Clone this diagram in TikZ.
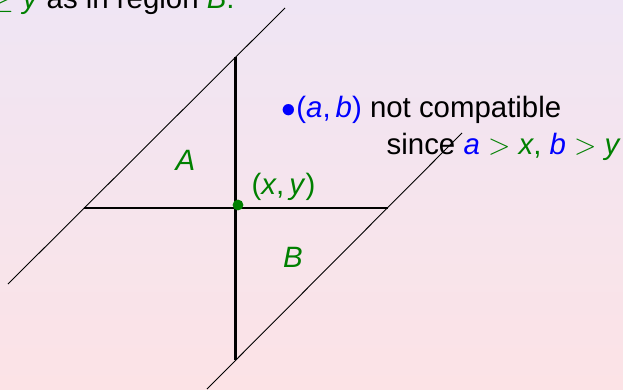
\RequirePackage{fix-cm}
\documentclass[tikz,border=0pt]{standalone}
\usepackage{fontspec}
\setmainfont{Liberation Sans}
\definecolor{mygreen}{RGB}{0,128,0}
\definecolor{myblue}{RGB}{0,0,255}
\definecolor{bgtop}{RGB}{239,229,244}
\definecolor{bgbot}{RGB}{252,227,230}
\newcommand\mvar[1]{\textit{#1}}
\tikzset{
  lbl/.style={inner sep=0pt, font=\fontsize{29.4}{35}\selectfont},
  axis/.style={line width=2.2pt, black},
  diag/.style={line width=0.9pt, black},
}
\begin{document}
\begin{tikzpicture}[x=1pt,y=1pt]
\clip (0,0) rectangle (623,389);
\shade[top color=bgtop, bottom color=bgbot] (0,0) rectangle (623,389);
% geometry
\coordinate (P) at (235.5,181);
\coordinate (T) at (235.5,332);
\coordinate (Bt) at (235.5,29);
\coordinate (L) at (83.5,181);
\coordinate (R) at (387.5,181);
\coordinate (d1s) at (8,105);
\coordinate (d1e) at (285,381);
\coordinate (d2s) at (207,0);
\coordinate (d2e) at (462,256);
\draw[diag] (d1s) -- (d1e);
\draw[diag] (d2s) -- (d2e);
\draw[axis] (T) -- (Bt);
\draw[axis] (L) -- (R);
\fill[mygreen] (238,184) circle (5.4);
% labels
\node[lbl, text=mygreen] (A) at (185.5,228.5) {\mvar{A}};
\node[lbl, text=mygreen] (B) at (293,131.5) {\mvar{B}};
\node[lbl, text=mygreen, anchor=base west] (xy) at (251.5,195) {(\mvar{x},\kern5pt\mvar{y})};
\node[lbl, anchor=base west] (ab) at (281.5,271.7) {{\color{myblue}$\bullet$(\mvar{a},\kern5pt\mvar{b})} not compatible};
\node[lbl, anchor=base west] (since) at (386.5,235) {since {\color{myblue}\mvar{a}} {\color{mygreen}$>$ \mvar{x},} {\color{myblue}\mvar{b}} {\color{mygreen}$>$ \mvar{y}}};
\node[lbl, anchor=base east] (top) at (39,380.5) {\color{mygreen}$\geq$ \mvar{y}};
\node[lbl, anchor=base west] (top2) at (46.5,380.5) {as in region {\color{mygreen}\mvar{B}.}};
\end{tikzpicture}
\end{document}
